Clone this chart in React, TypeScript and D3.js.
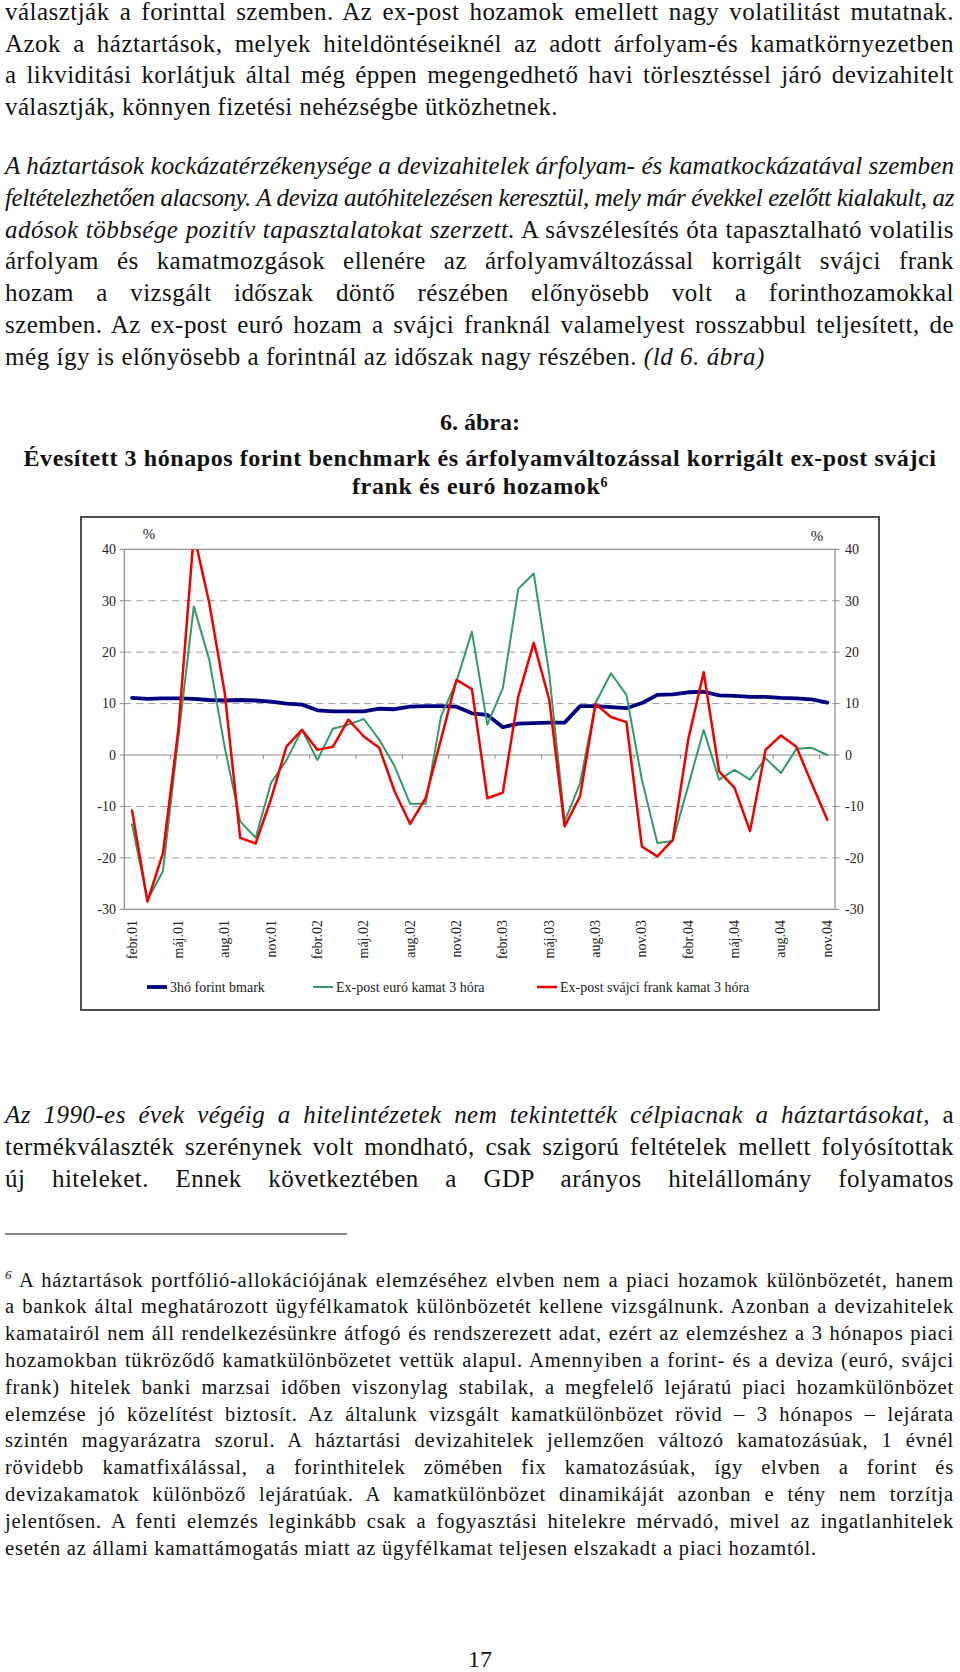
import React, { useLayoutEffect, useRef } from 'react';
import * as d3 from 'd3';

// ---------- chart data ----------
const monthNames = ['jan', 'febr', 'márc', 'ápr', 'máj', 'jún', 'júl', 'aug', 'szept', 'okt', 'nov', 'dec'];

const forintBmark = [
  11.1, 10.9, 11.0, 11.0, 10.9, 10.7, 10.6, 10.7, 10.6, 10.4, 10.0, 9.8,
  8.7, 8.5, 8.5, 8.5, 9.0, 8.9, 9.4, 9.5, 9.5, 9.4, 8.1, 7.8,
  5.4, 6.1, 6.2, 6.3, 6.3, 9.5, 9.5, 9.3, 9.1, 10.1, 11.7, 11.8,
  12.2, 12.3, 11.6, 11.5, 11.3, 11.3, 11.1, 11.0, 10.8, 10.2,
];

const euroExPost = [
  -13.5, -28.2, -22.6, 3.5, 28.9, 18.5, 1.5, -12.9, -16.1, -5.4, -1.0, 4.9,
  -1.0, 5.1, 5.9, 7.0, 3.0, -2.2, -9.5, -9.5, 7.5, 14.3, 24.0, 5.9,
  13.0, 32.3, 35.3, 15.9, -12.9, -5.5, 10.1, 15.9, 11.7, -4.8, -17.1, -16.7,
  -6.0, 4.9, -4.8, -2.9, -4.8, -0.6, -3.5, 1.2, 1.4, 0.0,
];

const chfExPost = [
  -10.8, -28.5, -19.1, 5.0, 43.0, 29.5, 12.1, -16.1, -17.2, -8.5, 1.7, 4.9,
  1.0, 1.6, 6.9, 3.6, 1.4, -7.1, -13.4, -8.4, 3.1, 14.6, 12.8, -8.4,
  -7.3, 11.4, 21.8, 10.8, -13.9, -8.0, 9.9, 7.4, 6.4, -17.8, -19.7, -16.5,
  3.0, 16.1, -3.2, -6.4, -14.8, 1.0, 3.8, 1.6, -5.6, -12.6,
];

const yTicks = [-30, -20, -10, 0, 10, 20, 30, 40];
const seriesNames = ['3hó forint bmark', 'Ex-post euró kamat 3 hóra', 'Ex-post svájci frank kamat 3 hóra'];
const seriesValues = [forintBmark, euroExPost, chfExPost];
const seriesColors = ['#000080', '#339966', '#ee0000'];
const seriesWidths = [3.8, 2, 2.5];

const categories = forintBmark.map((_, i) => {
  const m = (1 + i) % 12;
  const yr = 1 + Math.floor((1 + i) / 12);
  return `${monthNames[m]}.${String(yr).padStart(2, '0')}`;
});

// ---------- page text ----------
type Seg = [string, 'r' | 'i'];
interface Line { y: number; segs: Seg[]; j: boolean; w?: number; }

const bodyLines: Line[] = [
  { y: 19.5, segs: [['választják a forinttal szemben. Az ex-post hozamok emellett nagy volatilitást mutatnak.', 'r']], j: true },
  { y: 51.5, segs: [['Azok a háztartások, melyek hiteldöntéseiknél az adott árfolyam-és kamatkörnyezetben', 'r']], j: true },
  { y: 83, segs: [['a likviditási korlátjuk által még éppen megengedhető havi törlesztéssel járó devizahitelt', 'r']], j: true },
  { y: 114.5, segs: [['választják, könnyen fizetési nehézségbe ütközhetnek.', 'r']], j: false, w: 553 },
  { y: 174, segs: [['A háztartások kockázatérzékenysége a devizahitelek árfolyam- és kamatkockázatával szemben', 'i']], j: true },
  { y: 206, segs: [['feltételezhetően alacsony. A deviza autóhitelezésen keresztül, mely már évekkel ezelőtt kialakult, az', 'i']], j: true },
  { y: 237.5, segs: [['adósok többsége pozitív tapasztalatokat szerzett.', 'i'], [' A sávszélesítés óta tapasztalható volatilis', 'r']], j: true },
  { y: 269, segs: [['árfolyam és kamatmozgások ellenére az árfolyamváltozással korrigált svájci frank', 'r']], j: true },
  { y: 301, segs: [['hozam a vizsgált időszak döntő részében előnyösebb volt a forinthozamokkal', 'r']], j: true },
  { y: 333, segs: [['szemben. Az ex-post euró hozam a svájci franknál valamelyest rosszabbul teljesített, de', 'r']], j: true },
  { y: 365, segs: [['még így is előnyösebb a forintnál az időszak nagy részében. ', 'r'], ['(ld 6. ábra)', 'i']], j: false, w: 760 },
  { y: 1123, segs: [['Az 1990-es évek végéig a hitelintézetek nem tekintették célpiacnak a háztartásokat', 'i'], [', a', 'r']], j: true },
  { y: 1155, segs: [['termékválaszték szerénynek volt mondható, csak szigorú feltételek mellett folyósítottak', 'r']], j: true },
  { y: 1187, segs: [['új hiteleket. Ennek következtében a GDP arányos hitelállomány folyamatos', 'r']], j: true },
];

const footLines: string[] = [
  ' A háztartások portfólió-allokációjának elemzéséhez elvben nem a piaci hozamok különbözetét, hanem',
  'a bankok által meghatározott ügyfélkamatok különbözetét kellene vizsgálnunk. Azonban a devizahitelek',
  'kamatairól nem áll rendelkezésünkre átfogó és rendszerezett adat, ezért az elemzéshez a 3 hónapos piaci',
  'hozamokban tükröződő kamatkülönbözetet vettük alapul. Amennyiben a forint- és a deviza (euró, svájci',
  'frank) hitelek banki marzsai időben viszonylag stabilak, a megfelelő lejáratú piaci hozamkülönbözet',
  'elemzése jó közelítést biztosít. Az általunk vizsgált kamatkülönbözet rövid – 3 hónapos – lejárata',
  'szintén magyarázatra szorul. A háztartási devizahitelek jellemzően változó kamatozásúak, 1 évnél',
  'rövidebb kamatfixálással, a forinthitelek zömében fix kamatozásúak, így elvben a forint és',
  'devizakamatok különböző lejáratúak. A kamatkülönbözet dinamikáját azonban e tény nem torzítja',
  'jelentősen. A fenti elemzés leginkább csak a fogyasztási hitelekre mérvadó, mivel az ingatlanhitelek',
  'esetén az állami kamattámogatás miatt az ügyfélkamat teljesen elszakadt a piaci hozamtól.',
];

const FONT = "'Liberation Serif', 'Times New Roman', serif";
const BODY_X = 5;
const BODY_W = 949;

// chart geometry
const plotL = 124.3, plotR = 835, plotT = 549.3, plotB = 909.3;

export default function App() {
  const ref = useRef<SVGSVGElement>(null);

  useLayoutEffect(() => {
    const svg = ref.current;
    if (!svg) return;
    const texts = Array.from(svg.querySelectorAll('text[data-w]')) as SVGTextElement[];
    texts.forEach((t) => { t.style.letterSpacing = '0px'; t.style.wordSpacing = '0px'; });
    const info = texts.map((t) => {
      const txt = t.textContent || '';
      return {
        t, nat: t.getComputedTextLength(), w: +(t.dataset.w || 0), just: t.dataset.j === '1',
        g: t.dataset.g || '', n: txt.length, s: (txt.match(/ /g) || []).length,
      };
    });
    const sums: Record<string, [number, number]> = {};
    info.filter((d) => !d.just).forEach((d) => {
      const ls = (d.w - d.nat) / d.n;
      const s = sums[d.g] || [0, 0];
      sums[d.g] = [s[0] + ls, s[1] + 1];
    });
    info.forEach((d) => {
      if (!d.just) {
        d.t.style.letterSpacing = `${(d.w - d.nat) / d.n}px`;
      } else {
        const s = sums[d.g];
        let ls = s ? s[0] / s[1] : 0.5;
        let rem = d.w - d.nat - ls * d.n;
        if (rem < 0 || d.s === 0) { ls = (d.w - d.nat) / d.n; rem = 0; }
        d.t.style.letterSpacing = `${ls}px`;
        d.t.style.wordSpacing = `${d.s ? rem / d.s : 0}px`;
      }
    });
  }, []);

  const x = d3.scaleBand<string>().domain(categories).range([plotL, plotR]).paddingInner(0).paddingOuter(0);
  const bw = x.bandwidth();
  const cx = (c: string) => (x(c) as number) + bw / 2;
  const y = d3.scaleLinear().domain([-30, 40]).range([plotB, plotT]);
  const lineGen = d3.line<number>().x((_, i) => cx(categories[i])).y((d) => y(d));

  const tickBounds = d3.range(0, categories.length + 1, 3).map((k) =>
    k < categories.length ? (x(categories[k]) as number) : plotR);

  const legendX = [147, 313, 537];
  const legendY = 987;

  return (
    <svg ref={ref} width={960} height={1672} viewBox="0 0 960 1672"
      style={{ position: 'absolute', left: 0, top: 0, background: '#fff' }}
      fontFamily={FONT}>
      <rect x={0} y={0} width={960} height={1672} fill="#fff" />

      {/* body text */}
      {bodyLines.map((l, k) => (
        <text key={`b${k}`} x={BODY_X} y={l.y} fontSize={25} fill="#111"
          style={{ whiteSpace: 'pre' }}
          data-w={l.w ?? BODY_W} data-j={l.j ? '1' : '0'} data-g="body">
          {l.segs.map((s, m) => (
            <tspan key={m} fontStyle={s[1] === 'i' ? 'italic' : 'normal'}>{s[0]}</tspan>
          ))}
        </text>
      ))}

      {/* figure heading */}
      <text x={480} y={429.5} textAnchor="middle" fontSize={24} fontWeight="bold" fill="#111">6. ábra:</text>
      <text x={480} y={466} textAnchor="middle" fontSize={24} fontWeight="bold" fill="#111"
        style={{ whiteSpace: 'pre' }} data-w={913} data-j="0" data-g="title">
        Évesített 3 hónapos forint benchmark és árfolyamváltozással korrigált ex-post svájci
      </text>
      <text x={480} y={494} textAnchor="middle" fontSize={24} fontWeight="bold" fill="#111"
        style={{ whiteSpace: 'pre' }} data-w={256} data-j="0" data-g="title2">
        <tspan>frank és euró hozamok</tspan>
        <tspan fontSize={14} dy={-7}>6</tspan>
      </text>

      {/* chart frame */}
      <rect x={81} y={517} width={798} height={493} fill="#fff" stroke="#222" strokeWidth={1.6} />

      <defs>
        <clipPath id="plotClip">
          <rect x={plotL} y={plotT} width={plotR - plotL} height={plotB - plotT} />
        </clipPath>
      </defs>

      {/* gridlines */}
      {yTicks.filter((t) => t !== 0 && t !== -30 && t !== 40).map((t) => (
        <line key={`g${t}`} x1={plotL} x2={plotR} y1={y(t)} y2={y(t)}
          stroke="#9a9a9a" strokeWidth={1} strokeDasharray="7,5" />
      ))}
      {/* plot border */}
      <rect x={plotL} y={plotT} width={plotR - plotL} height={plotB - plotT} fill="none" stroke="#8a8a8a" strokeWidth={1.2} />
      {/* zero axis */}
      <line x1={plotL} x2={plotR} y1={y(0)} y2={y(0)} stroke="#8a8a8a" strokeWidth={1.2} />
      {tickBounds.map((bx, k) => (
        <line key={`ct${k}`} x1={bx} x2={bx} y1={y(0)} y2={y(0) + 4} stroke="#8a8a8a" strokeWidth={1} />
      ))}

      {/* y axes ticks + labels */}
      {yTicks.map((t) => (
        <g key={`yt${t}`}>
          <line x1={plotL - 4.5} x2={plotL} y1={y(t)} y2={y(t)} stroke="#8a8a8a" strokeWidth={1} />
          <line x1={plotR} x2={plotR + 4.5} y1={y(t)} y2={y(t)} stroke="#8a8a8a" strokeWidth={1} />
          <text x={116} y={y(t)} dy="0.35em" textAnchor="end" fontSize={14} fill="#222">{t}</text>
          <text x={845} y={y(t)} dy="0.35em" textAnchor="start" fontSize={14} fill="#222">{t}</text>
        </g>
      ))}
      <text x={149} y={539} textAnchor="middle" fontSize={15} fill="#222">%</text>
      <text x={817} y={541} textAnchor="middle" fontSize={15} fill="#222">%</text>

      {/* category labels */}
      {categories.map((c, i) => (i % 3 === 0 ? (
        <text key={`cl${i}`} transform={`translate(${cx(c)},920) rotate(-90)`}
          textAnchor="end" dominantBaseline="central" fontSize={14} fill="#222">{c}</text>
      ) : null))}

      {/* series */}
      <g clipPath="url(#plotClip)">
        {seriesValues.map((vals, s) => (
          <path key={`s${s}`} d={lineGen(vals) || ''} fill="none" stroke={seriesColors[s]}
            strokeWidth={seriesWidths[s]} strokeLinejoin="round" strokeLinecap="round" />
        ))}
      </g>

      {/* legend */}
      {seriesNames.map((n, s) => (
        <g key={`lg${s}`}>
          <line x1={legendX[s]} x2={legendX[s] + 20} y1={legendY} y2={legendY}
            stroke={seriesColors[s]} strokeWidth={seriesWidths[s]} />
          <text x={legendX[s] + 23} y={legendY} dy="0.35em" fontSize={14} fill="#222">{n}</text>
        </g>
      ))}

      {/* footnote rule */}
      <line x1={5} x2={347} y1={1234} y2={1234} stroke="#111" strokeWidth={1.2} />

      {/* footnotes */}
      {footLines.map((l, k) => (
        <text key={`f${k}`} x={BODY_X} y={1286.5 + k * 26.8} fontSize={20.5} fill="#111"
          style={{ whiteSpace: 'pre' }}
          data-w={k === footLines.length - 1 ? 812 : BODY_W}
          data-j={k === footLines.length - 1 ? '0' : '1'} data-g="fn">
          {k === 0 ? (
            <>
              <tspan fontSize={13} fontStyle="italic" dy={-8}>6</tspan>
              <tspan dy={8}>{l}</tspan>
            </>
          ) : l}
        </text>
      ))}

      {/* page number */}
      <text x={480} y={1667} textAnchor="middle" fontSize={24} fill="#111">17</text>
    </svg>
  );
}
